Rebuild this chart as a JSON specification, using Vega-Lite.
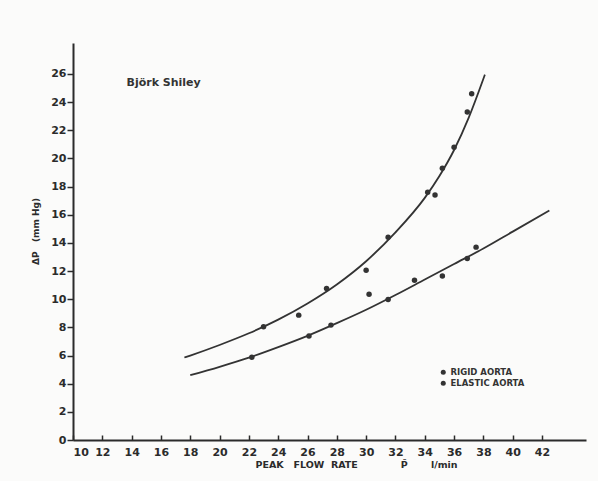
{
  "$schema": "https://vega.github.io/schema/vega-lite/v6.json",
  "width": 513,
  "height": 397,
  "autosize": {"type": "none"},
  "padding": {"left": 73, "top": 43, "right": 12, "bottom": 41},
  "background": "#fbfbfa",
  "config": {
    "view": {"stroke": null},
    "font": "DejaVu Sans",
    "axis": {"grid": false, "domainColor": "#2b2b2b", "tickColor": "#2b2b2b", "labelColor": "#2b2b2b", "titleColor": "#2b2b2b", "labelOverlap": false, "labelBound": false}
  },
  "datasets": {
    "curves": [
      {"series": "RIGID AORTA", "x": 17.6, "y": 5.86},
      {"series": "RIGID AORTA", "x": 18, "y": 6.0},
      {"series": "RIGID AORTA", "x": 20, "y": 6.75},
      {"series": "RIGID AORTA", "x": 22, "y": 7.58},
      {"series": "RIGID AORTA", "x": 24, "y": 8.55},
      {"series": "RIGID AORTA", "x": 26, "y": 9.7},
      {"series": "RIGID AORTA", "x": 28, "y": 11.05},
      {"series": "RIGID AORTA", "x": 30, "y": 12.7},
      {"series": "RIGID AORTA", "x": 32, "y": 14.75},
      {"series": "RIGID AORTA", "x": 34, "y": 17.2},
      {"series": "RIGID AORTA", "x": 35, "y": 18.75},
      {"series": "RIGID AORTA", "x": 36, "y": 20.6},
      {"series": "RIGID AORTA", "x": 37, "y": 22.9},
      {"series": "RIGID AORTA", "x": 38, "y": 25.66},
      {"series": "RIGID AORTA", "x": 38.1, "y": 25.95},
      {"series": "ELASTIC AORTA", "x": 18, "y": 4.6},
      {"series": "ELASTIC AORTA", "x": 20, "y": 5.2},
      {"series": "ELASTIC AORTA", "x": 22, "y": 5.85},
      {"series": "ELASTIC AORTA", "x": 24, "y": 6.6},
      {"series": "ELASTIC AORTA", "x": 26, "y": 7.4},
      {"series": "ELASTIC AORTA", "x": 28, "y": 8.3},
      {"series": "ELASTIC AORTA", "x": 30, "y": 9.25},
      {"series": "ELASTIC AORTA", "x": 32, "y": 10.3},
      {"series": "ELASTIC AORTA", "x": 34, "y": 11.4},
      {"series": "ELASTIC AORTA", "x": 36, "y": 12.5},
      {"series": "ELASTIC AORTA", "x": 38, "y": 13.6},
      {"series": "ELASTIC AORTA", "x": 40, "y": 14.8},
      {"series": "ELASTIC AORTA", "x": 42.5, "y": 16.3}
    ],
    "points": [
      {"series": "RIGID AORTA", "x": 23.0, "y": 8.04},
      {"series": "RIGID AORTA", "x": 25.4, "y": 8.87},
      {"series": "RIGID AORTA", "x": 27.3, "y": 10.76},
      {"series": "RIGID AORTA", "x": 30.0, "y": 12.06},
      {"series": "RIGID AORTA", "x": 31.5, "y": 14.4},
      {"series": "RIGID AORTA", "x": 34.2, "y": 17.6},
      {"series": "RIGID AORTA", "x": 34.7, "y": 17.4},
      {"series": "RIGID AORTA", "x": 35.2, "y": 19.3},
      {"series": "RIGID AORTA", "x": 36.0, "y": 20.8},
      {"series": "RIGID AORTA", "x": 36.9, "y": 23.3},
      {"series": "RIGID AORTA", "x": 37.2, "y": 24.6},
      {"series": "ELASTIC AORTA", "x": 22.2, "y": 5.87},
      {"series": "ELASTIC AORTA", "x": 26.1, "y": 7.38},
      {"series": "ELASTIC AORTA", "x": 27.6, "y": 8.16},
      {"series": "ELASTIC AORTA", "x": 30.2, "y": 10.35},
      {"series": "ELASTIC AORTA", "x": 31.5, "y": 9.98},
      {"series": "ELASTIC AORTA", "x": 33.3, "y": 11.35},
      {"series": "ELASTIC AORTA", "x": 35.2, "y": 11.65},
      {"series": "ELASTIC AORTA", "x": 36.9, "y": 12.9},
      {"series": "ELASTIC AORTA", "x": 37.5, "y": 13.7}
    ],
    "note": [
      {"label": "Björk  Shiley", "x": 13.65, "y": 25.34}
    ]
  },
  "encoding": {
    "x": {
      "field": "x", "type": "quantitative",
      "scale": {"domain": [10, 45], "nice": false, "zero": false},
      "axis": {
        "values": [10, 12, 14, 16, 18, 20, 22, 24, 26, 28, 30, 32, 34, 36, 38, 40, 42],
        "labelOverlap": false,
        "title": "PEAK\u00a0\u00a0\u00a0FLOW\u00a0\u00a0RATE\u00a0\u00a0\u00a0\u00a0\u00a0\u00a0\u00a0\u00a0\u00a0\u00a0\u00a0\u00a0\u00a0P̂\u00a0\u00a0\u00a0\u00a0\u00a0\u00a0\u00a0l/min",
        "titleFontSize": 9.5, "titleFontWeight": "bold",
        "titleX": 283, "titleY": 24, "titleBaseline": "middle",
        "labelFontSize": 11, "labelFontWeight": "bold",
        "tickSize": -5, "tickWidth": 1.5, "domainWidth": 2, "labelPadding": 11
      }
    },
    "y": {
      "field": "y", "type": "quantitative",
      "scale": {"domain": [0, 28.2], "nice": false},
      "axis": {
        "values": [0, 2, 4, 6, 8, 10, 12, 14, 16, 18, 20, 22, 24, 26],
        "labelOverlap": false,
        "title": "ΔP\u00a0\u00a0\u00a0(mm Hg)",
        "titleFontSize": 9, "titleFontWeight": "bold",
        "titleX": -38, "titleY": 188, "titleBaseline": "middle",
        "labelFontSize": 11, "labelFontWeight": "bold",
        "tickSize": 6, "tickWidth": 1.5, "domainWidth": 2, "labelPadding": 1
      }
    }
  },
  "layer": [
    {
      "data": {"name": "curves"},
      "mark": {"type": "line", "interpolate": "monotone", "color": "#333333", "strokeWidth": 1.8},
      "encoding": {
        "detail": {"field": "series"}
      }
    },
    {
      "data": {"name": "points"},
      "mark": {"type": "point", "filled": true, "shape": "circle", "size": 30, "opacity": 1},
      "encoding": {
        "color": {
          "field": "series", "type": "nominal",
          "scale": {"domain": ["RIGID AORTA", "ELASTIC AORTA"], "range": ["#333333", "#333333"]},
          "legend": {
            "title": null, "orient": "none", "legendX": 366, "legendY": 325,
            "labelFontSize": 8.5, "labelFontWeight": "bold", "labelColor": "#333333",
            "symbolSize": 25, "symbolType": "circle", "rowPadding": 2, "labelOffset": 3
          }
        }
      }
    },
    {
      "data": {"name": "note"},
      "mark": {"type": "text", "align": "left", "baseline": "middle", "fontSize": 11, "fontWeight": "bold", "color": "#333333"},
      "encoding": {
        "text": {"field": "label"}
      }
    }
  ]
}
